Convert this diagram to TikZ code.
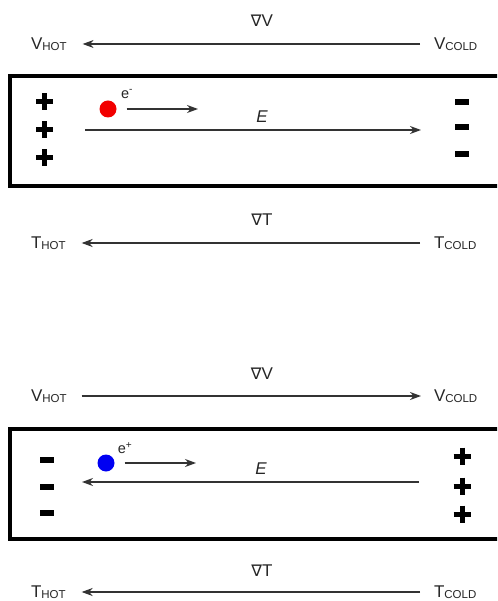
\documentclass[tikz,border=0pt]{standalone}
\usepackage{fontspec}
\setmainfont{Liberation Sans}
\newfontfamily\symfont{DejaVu Sans}
\usetikzlibrary{arrows.meta}

\newcommand{\lbl}[2]{#1\raisebox{-1.4pt}{\fontsize{11.5}{13}\selectfont #2}}
\newcommand{\grad}[1]{{\symfont\fontsize{16}{18}\selectfont ∇}#1}

\tikzset{
  txt/.style={inner sep=0pt, outer sep=0pt, text=black!85, font=\fontsize{17}{20}\selectfont},
  arr/.style={draw=black!80, line width=1.2pt, -{Stealth[length=11pt,width=8pt,inset=3.5pt]}},
  frame/.style={draw=black, line width=3.6pt},
  dot/.style={circle, inner sep=0pt, minimum size=17pt},
  signline/.style={line width=5pt, black},
}

\begin{document}
\begin{tikzpicture}[x=1pt,y=-1pt]
\useasboundingbox (0,0) rectangle (497,601);
\clip (0,0) rectangle (497,601);

% ---------- upper panel ----------
\node[txt] (gv1) at (262,21) {\grad{V}};
\node[txt, anchor=west] (vh1) at (31,44) {\lbl{V}{HOT}};
\node[txt, anchor=west] (vc1) at (434,44) {\lbl{V}{COLD}};
\draw[arr, shorten <=14pt, shorten >=16pt] (vc1) -- (vh1);

\draw[frame] (10,76) rectangle (510,186);
\foreach \y in {102,130,158} {
  \draw[signline] (36,\y) -- (53,\y);
  \draw[signline] (44.5,\y-8.5) -- (44.5,\y+8.5);
}
\foreach \y in {102,127,154} {
  \draw[signline, line width=5.5pt] (455,\y) -- (469,\y);
}
\node[dot, fill=red!95!black] (d1) at (108,109) {};
\node[txt, font=\fontsize{14.5}{16}\selectfont] (e1) at (127,94) {e\textsuperscript{-}};
\coordinate (s1) at (198,109);
\draw[arr, shorten <=10pt] (d1) -- (s1);
\node[txt, font=\itshape\fontsize{17}{20}\selectfont] (E1) at (262,117) {E};
\coordinate (E1a) at (85,130);
\coordinate (E1b) at (421,130);
\draw[arr] (E1a) -- (E1b);

\node[txt] (gt1) at (262,220) {\grad{T}};
\node[txt, anchor=west] (th1) at (31,243) {\lbl{T}{HOT}};
\node[txt, anchor=west] (tc1) at (434,243) {\lbl{T}{COLD}};
\draw[arr, shorten <=14pt, shorten >=16pt] (tc1) -- (th1);

% ---------- lower panel ----------
\node[txt] (gv2) at (262,374) {\grad{V}};
\node[txt, anchor=west] (vh2) at (31,396) {\lbl{V}{HOT}};
\node[txt, anchor=west] (vc2) at (434,396) {\lbl{V}{COLD}};
\draw[arr, shorten <=15pt, shorten >=13pt] (vh2) -- (vc2);

\draw[frame] (10,429) rectangle (510,539);
\foreach \y in {460,487,513} {
  \draw[signline, line width=5.5pt] (40,\y) -- (54,\y);
}
\foreach \y in {456,486,514} {
  \draw[signline] (453.5,\y) -- (470.5,\y);
  \draw[signline] (462,\y-8.5) -- (462,\y+8.5);
}
\node[dot, fill=blue!95!black] (d2) at (106,463) {};
\node[txt, font=\fontsize{14.5}{16}\selectfont] (e2) at (125,448) {e\textsuperscript{+}};
\coordinate (s2) at (196,463);
\draw[arr, shorten <=10pt] (d2) -- (s2);
\node[txt, font=\itshape\fontsize{17}{20}\selectfont] (E2) at (261,469) {E};
\coordinate (E2a) at (419,482);
\coordinate (E2b) at (82,482);
\draw[arr] (E2a) -- (E2b);

\node[txt] (gt2) at (262,571) {\grad{T}};
\node[txt, anchor=west] (th2) at (31,592) {\lbl{T}{HOT}};
\node[txt, anchor=west] (tc2) at (434,592) {\lbl{T}{COLD}};
\draw[arr, shorten <=14pt, shorten >=16pt] (tc2) -- (th2);
\end{tikzpicture}
\end{document}
